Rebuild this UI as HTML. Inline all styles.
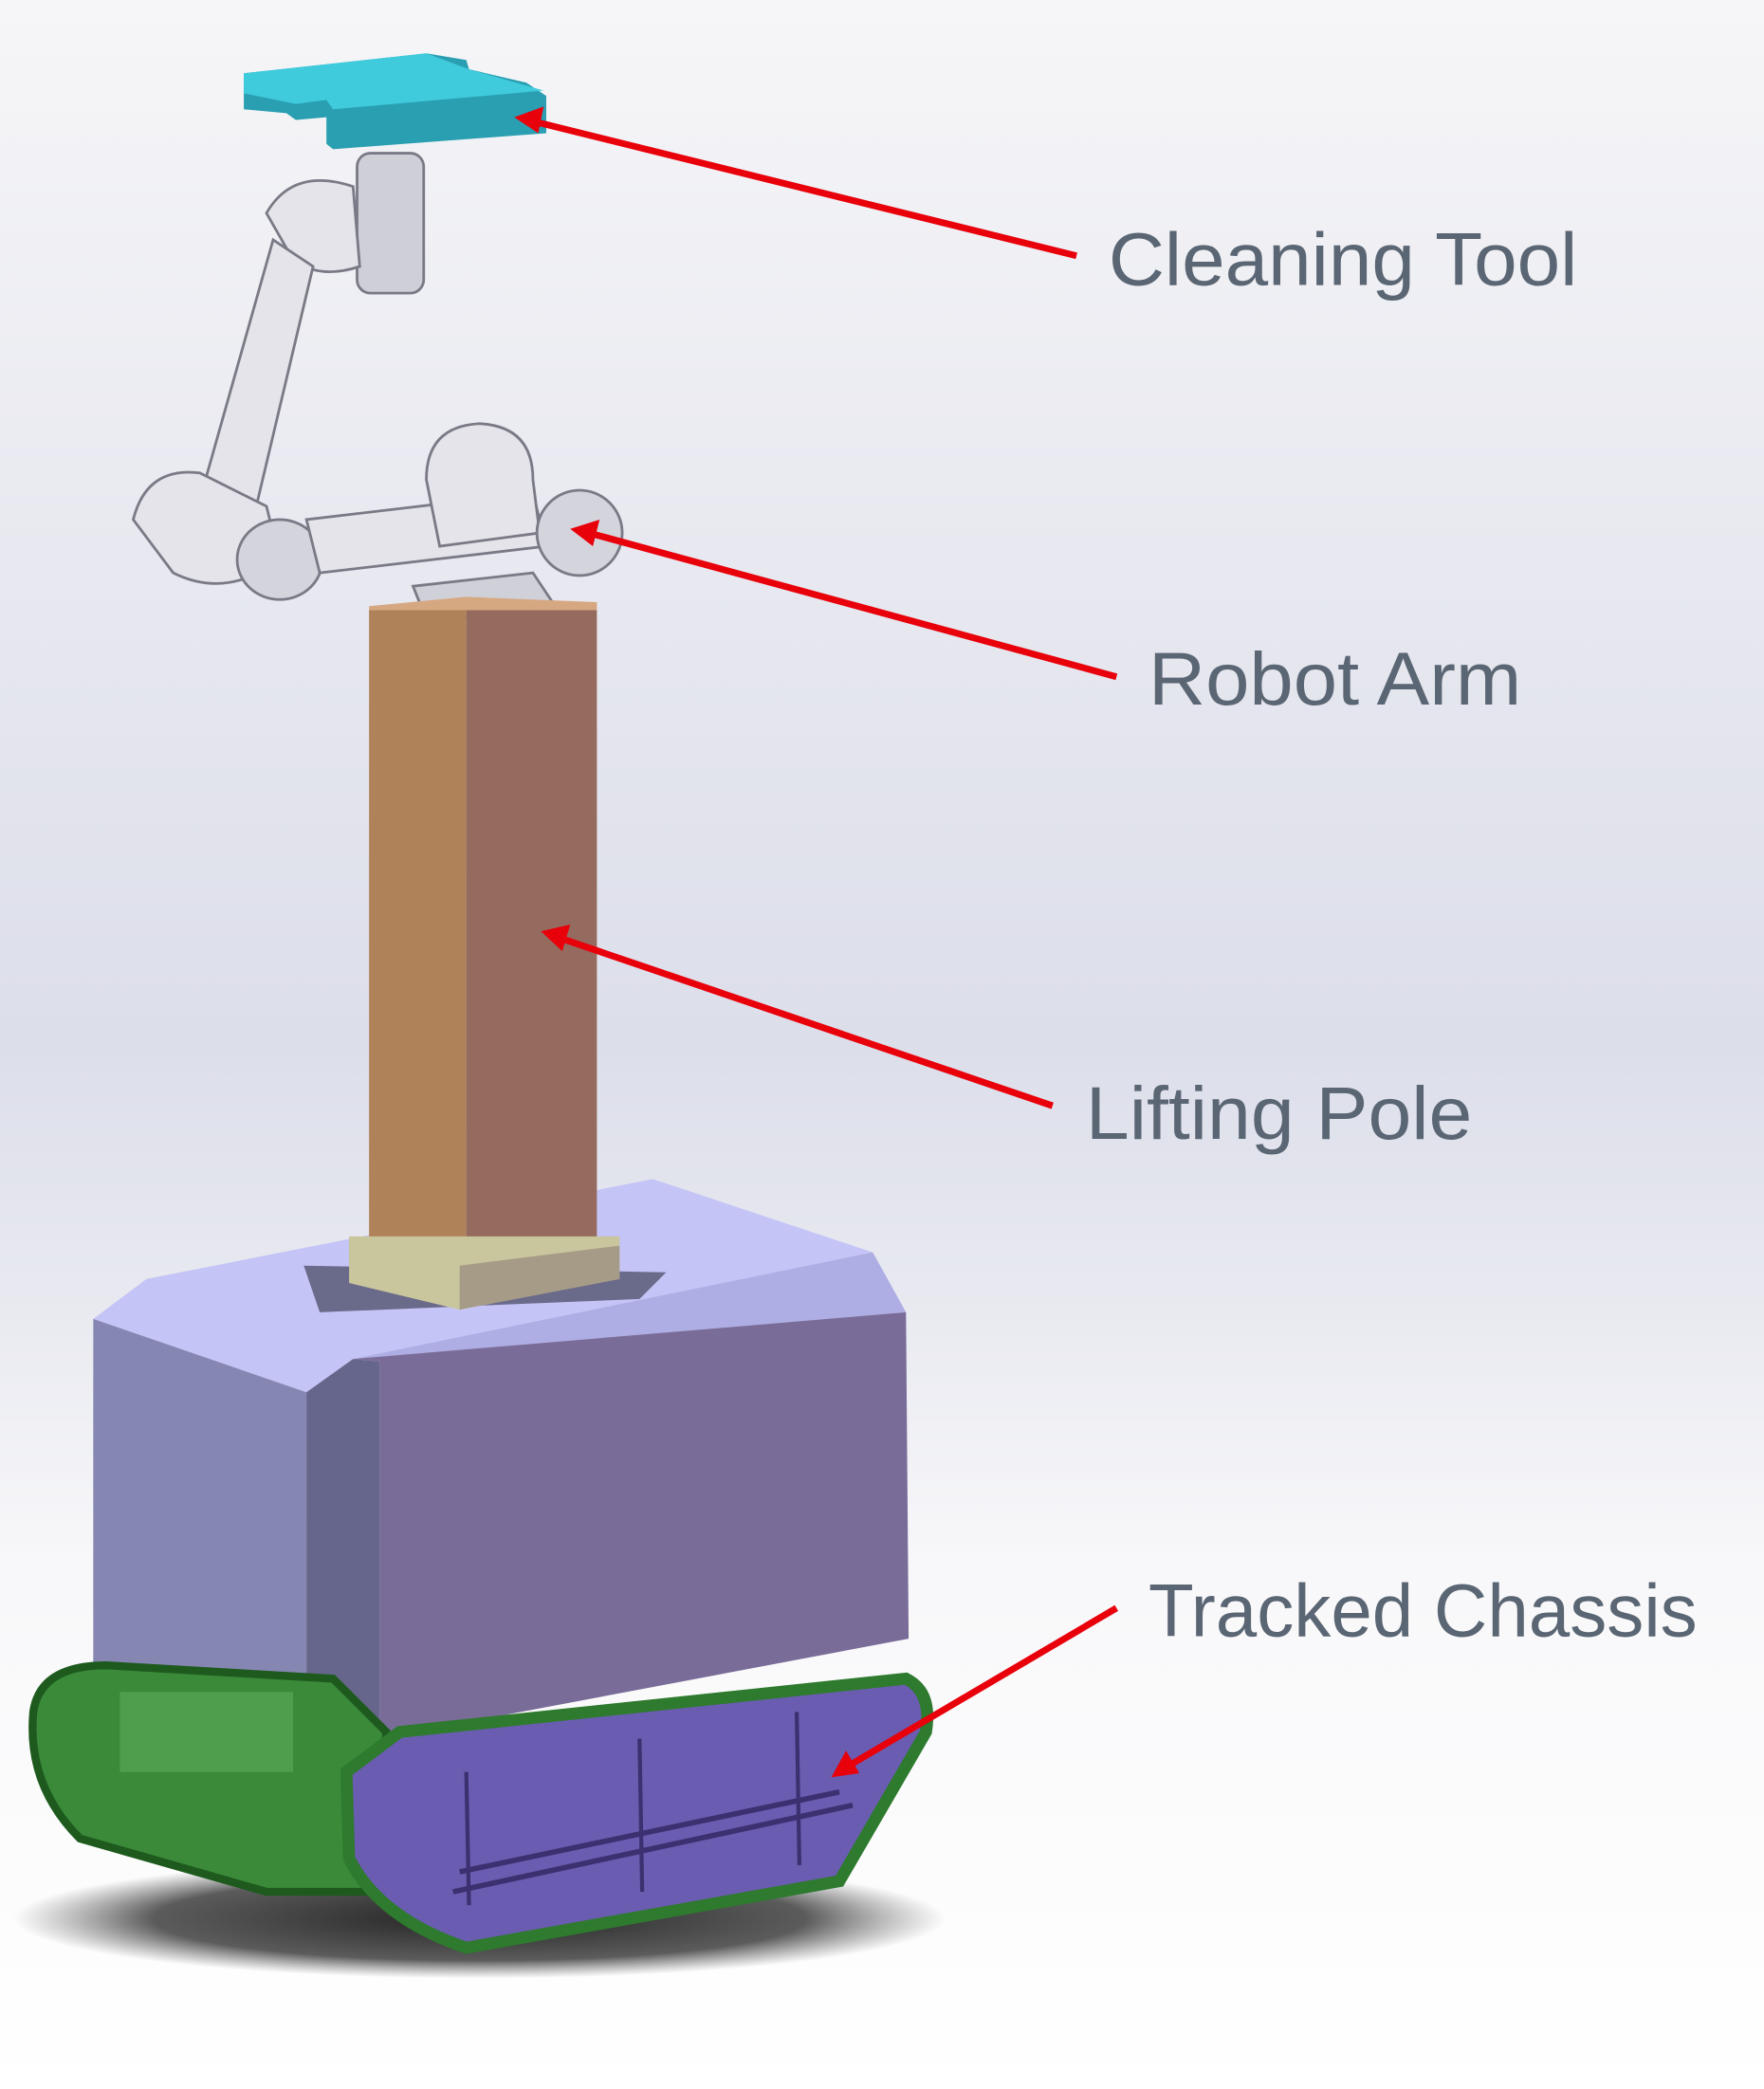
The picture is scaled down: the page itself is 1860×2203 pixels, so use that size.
<!DOCTYPE html>
<html><head><meta charset="utf-8"><style>
html,body{margin:0;padding:0;width:1860px;height:2203px;overflow:hidden;background:#fff}
svg{display:block}
</style></head><body>
<svg width="1860" height="2203" viewBox="0 0 1324 1568" preserveAspectRatio="none" xmlns="http://www.w3.org/2000/svg">
<defs>
<linearGradient id="bg" x1="0" y1="0" x2="0" y2="1">
<stop offset="0" stop-color="#f6f6f8"/>
<stop offset="0.3" stop-color="#e6e7ef"/>
<stop offset="0.5" stop-color="#dcdeea"/>
<stop offset="0.62" stop-color="#e8e9f0"/>
<stop offset="0.75" stop-color="#f8f8fa"/>
<stop offset="1" stop-color="#ffffff"/>
</linearGradient>
<radialGradient id="sh" cx="0.5" cy="0.5" r="0.5">
<stop offset="0" stop-color="#222"/><stop offset="0.7" stop-color="#333" stop-opacity="0.8"/><stop offset="1" stop-color="#555" stop-opacity="0"/>
</radialGradient>
</defs>
<rect width="1324" height="1568" fill="url(#bg)"/>
<ellipse cx="360" cy="1440" rx="350" ry="45" fill="url(#sh)"/>
<!-- cleaning tool -->
<polygon points="183,55 320,40 350,45 352,52 395,62 410,72 410,100 250,112 245,108 245,88 222,90 215,85 183,82" fill="#2a9fb2"/>
<polygon points="183,55 320,40 352,52 408,68 250,82 245,75 222,78 183,70" fill="#3fcbdc"/>
<!-- arm -->
<g fill="#e4e4ea" stroke="#7a7a86" stroke-width="2">
<rect x="268" y="115" width="50" height="105" rx="10" fill="#cfcfd8"/>
<path d="M200,160 Q220,125 265,140 L270,200 Q240,210 220,195 Z"/>
<path d="M205,180 L235,200 L190,390 L150,375 Z"/>
<path d="M100,390 Q110,350 150,355 L200,380 L210,420 Q170,450 130,430 Z"/>
<ellipse cx="210" cy="420" rx="32" ry="30" fill="#d4d4dc"/>
<path d="M230,390 L400,370 L410,410 L240,430 Z"/>
<path d="M320,360 Q320,320 360,318 Q400,320 400,360 L405,400 L330,410 Z"/>
<ellipse cx="435" cy="400" rx="32" ry="32" fill="#d4d4dc"/>
<path d="M310,440 L400,430 L420,460 L320,465 Z" fill="#d0d0d8"/>
</g>
<!-- box top -->
<polygon points="110,960 490,885 655,940 680,985 265,1020 230,1045 70,990" fill="#c4c4f6"/>
<polygon points="265,1020 680,985 655,940" fill="#aeaee4"/>
<polygon points="228,950 500,955 480,975 240,985" fill="#6a6a8a"/>
<!-- pole -->
<polygon points="277,455 350,448 448,452 448,458 350,460 277,460" fill="#d6a882"/>
<rect x="277" y="458" width="73" height="492" fill="#b0825a"/>
<rect x="350" y="458" width="98" height="492" fill="#956a5f"/>
<!-- base plate -->
<polygon points="262,928 465,928 465,960 345,983 262,963" fill="#c9c59c"/>
<polygon points="345,950 465,935 465,960 345,983" fill="#a69b86"/>
<!-- box faces -->
<polygon points="70,990 230,1045 230,1305 70,1270" fill="#8686b2"/>
<polygon points="230,1045 265,1020 285,1022 285,1305 230,1305" fill="#66668c"/>
<polygon points="265,1020 680,985 682,1230 285,1305 285,1022" fill="#7a6c98"/>
<!-- tracks -->
<path d="M25,1285 Q30,1250 80,1250 L250,1260 L290,1300 L280,1420 L200,1420 L60,1380 Q20,1340 25,1285 Z" fill="#3a8a3a" stroke="#1e5a1e" stroke-width="6"/>
<rect x="90" y="1270" width="130" height="60" fill="#4e9e4e"/>
<path d="M260,1330 L300,1300 L680,1260 Q700,1270 695,1300 L630,1412 L350,1462 Q285,1440 262,1395 Z" fill="#6a5cb0" stroke="#2e7a2e" stroke-width="9"/>
<g stroke="#3c3070" stroke-width="3">
<line x1="350" y1="1330" x2="352" y2="1430"/><line x1="480" y1="1305" x2="482" y2="1420"/><line x1="598" y1="1285" x2="600" y2="1400"/>
</g>
<g stroke="#3c3070" stroke-width="4">
<line x1="340" y1="1420" x2="640" y2="1355"/><line x1="345" y1="1405" x2="630" y2="1345"/>
</g>
<!-- arrows -->
<g stroke="#e8000a" stroke-width="5" fill="#e8000a">
<line x1="808" y1="192" x2="400" y2="91"/>
<polygon points="386,88 408,80 404,100" stroke="none"/>
<line x1="838" y1="508" x2="442" y2="400"/>
<polygon points="428,397 450,390 445,410" stroke="none"/>
<line x1="790" y1="830" x2="420" y2="704"/>
<polygon points="406,699 428,694 422,714" stroke="none"/>
<line x1="838" y1="1207" x2="636" y2="1326"/>
<polygon points="624,1334 635,1314 645,1331" stroke="none"/>
</g>
<g font-family="'Liberation Sans',sans-serif" font-size="56" fill="#5b6674">
<text x="832" y="214" textLength="352" lengthAdjust="spacingAndGlyphs">Cleaning Tool</text>
<text x="862" y="529" textLength="280" lengthAdjust="spacingAndGlyphs">Robot Arm</text>
<text x="815" y="855" textLength="290" lengthAdjust="spacingAndGlyphs">Lifting Pole</text>
<text x="862" y="1228" textLength="412" lengthAdjust="spacingAndGlyphs">Tracked Chassis</text>
</g>
</svg>
</body></html>
